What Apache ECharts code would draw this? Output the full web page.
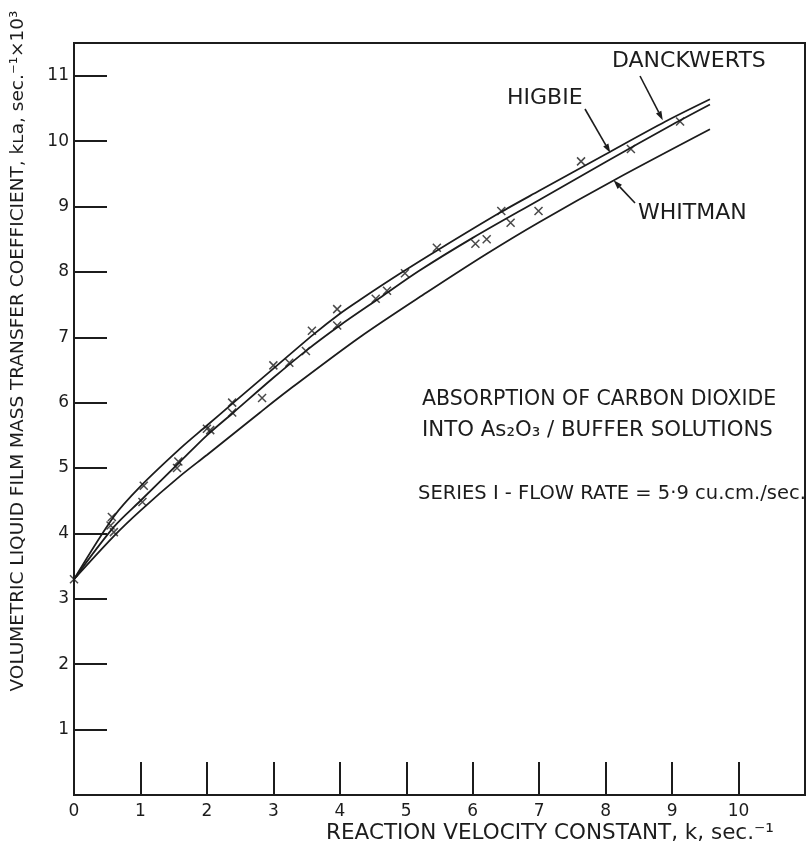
<!DOCTYPE html>
<html><head><meta charset="utf-8">
<script src="https://cdn.jsdelivr.net/npm/echarts@6/dist/echarts.min.js"></script>
<style>html,body{margin:0;padding:0;background:#fff}#c{width:808px;height:848px}</style>
</head><body><div id="c"></div>
<script>
// ---- data ----
const danckwerts = [[0,3.3],[0.6,4.26],[1.0,4.72],[1.6,5.3],[2.0,5.65],[2.4,6.0],[3.0,6.52],[3.6,7.04],[4.0,7.36],[4.3,7.57],[4.9,7.97],[5.5,8.35],[6.4,8.9],[7.0,9.24],[8.0,9.8],[8.9,10.3],[9.57,10.64]];
const higbie = [[0,3.3],[0.6,4.1],[1.0,4.5],[1.6,5.1],[2.0,5.5],[2.4,5.85],[3.0,6.38],[3.5,6.8],[4.0,7.18],[4.6,7.6],[5.2,8.02],[6.0,8.52],[7.0,9.1],[8.0,9.68],[9.0,10.25],[9.57,10.56]];
const whitman = [[0,3.3],[0.6,3.96],[1.0,4.35],[1.6,4.88],[2.0,5.2],[2.8,5.85],[3.24,6.2],[4.3,7.0],[5.3,7.68],[6.2,8.27],[7.0,8.76],[8.16,9.42],[9.57,10.18]];
const measured = [[0,3.3],[0.57,4.25],[0.55,4.12],[0.6,4.02],[1.05,4.73],[1.03,4.48],[1.57,5.1],[1.55,5.0],[2.0,5.6],[2.05,5.58],[2.38,6.0],[2.38,5.85],[2.83,6.07],[3.0,6.57],[3.24,6.61],[3.49,6.79],[3.58,7.1],[3.96,7.43],[3.96,7.18],[4.54,7.59],[4.71,7.71],[4.98,7.98],[5.46,8.37],[6.04,8.43],[6.21,8.5],[6.43,8.93],[6.57,8.75],[6.99,8.93],[7.63,9.69],[8.38,9.88],[9.12,10.3]];
const xTickLabels = ['0','1','2','3','4','5','6','7','8','9','10'];
const yTickLabels = ['1','2','3','4','5','6','7','8','9','10','11'];
const curveNames = ['DANCKWERTS','HIGBIE','WHITMAN'];
const labelTips = [[8.86,10.32],[8.07,9.82],[8.12,9.40]];

const FONT = 'DejaVu Sans';
const INK = '#1c1c1c';

const chart = echarts.init(document.getElementById('c'), null, {renderer:'canvas'});
function curve(name, data){
  return {name, type:'line', data, smooth:0.3, showSymbol:false, symbol:'none',
    lineStyle:{color:INK, width:1.8}, z:2, silent:true};
}
const axisCommon = {
  type:'value', interval:1,
  axisLine:{show:true, onZero:false, lineStyle:{color:INK, width:2}},
  axisTick:{show:true, inside:true, length:33, lineStyle:{color:INK, width:2}},
  splitLine:{show:false}
};
chart.setOption({
  animation:false,
  grid:{left:74, top:43, right:3, bottom:53, show:true, borderColor:INK, borderWidth:2},
  xAxis:Object.assign({}, axisCommon, {min:0, max:11,
    axisLabel:{color:INK, fontFamily:FONT, fontSize:17, margin:8,
      formatter:v => xTickLabels.includes(String(v)) ? String(v) : ''}}),
  yAxis:Object.assign({}, axisCommon, {min:0, max:11.5,
    axisLabel:{color:INK, fontFamily:FONT, fontSize:17, margin:5,
      formatter:v => yTickLabels.includes(String(v)) ? String(v) : ''}}),
  series:[
    curve(curveNames[0], danckwerts),
    curve(curveNames[1], higbie),
    curve(curveNames[2], whitman),
    {name:'measured', type:'scatter', data:measured, symbol:'path://M0,0L10,10M10,0L0,10',
     symbolSize:8, itemStyle:{color:'rgba(0,0,0,0)', borderColor:INK, borderWidth:1.5}, z:3}
  ]
});

const px = (x,y) => chart.convertToPixel({gridIndex:0}, [x,y]);
function arrow(from, to){
  const dx = to[0]-from[0], dy = to[1]-from[1];
  const L = Math.hypot(dx,dy), ux = dx/L, uy = dy/L;
  const hl = 9, hw = 3;
  const bx = to[0]-ux*hl, by = to[1]-uy*hl;
  return [
    {type:'line', shape:{x1:from[0], y1:from[1], x2:bx, y2:by}, style:{stroke:INK, lineWidth:1.6}, z:10},
    {type:'polygon', shape:{points:[[to[0],to[1]],[bx-uy*hw, by+ux*hw],[bx+uy*hw, by-ux*hw]]}, style:{fill:INK}, z:10}
  ];
}
function txt(text, x, y, size){
  return {type:'text', x, y, z:10,
    style:{text, fill:INK, font:size+'px "'+FONT+'"', align:'left', verticalAlign:'top'}};
}
const labelPos = [[612,50],[507,87],[638,202]];
const arrowTails = [[640,76],[585,109],[635,203]];
let g = [];
curveNames.forEach((n,i) => {
  g.push(txt(n, labelPos[i][0], labelPos[i][1], 22));
  g = g.concat(arrow(arrowTails[i], px(labelTips[i][0], labelTips[i][1])));
});
g.push(txt('ABSORPTION OF CARBON DIOXIDE', 422, 389, 20.5));
g.push(txt('INTO As₂O₃ / BUFFER SOLUTIONS', 422, 420, 21.3));
g.push(txt('SERIES I - FLOW RATE = 5·9 cu.cm./sec.', 418, 484, 19.5));
g.push({type:'text', x:18, y:351, rotation:Math.PI/2, z:10,
  style:{text:'VOLUMETRIC LIQUID FILM MASS TRANSFER COEFFICIENT, kʟa, sec.⁻¹×10³', fill:INK,
    font:'18.5px "'+FONT+'"', align:'center', verticalAlign:'middle'}});
g.push({type:'text', x:550, y:833, z:10,
  style:{text:'REACTION VELOCITY CONSTANT, k, sec.⁻¹', fill:INK,
    font:'21.5px "'+FONT+'"', align:'center', verticalAlign:'middle'}});
chart.setOption({graphic:g});
</script></body></html>
